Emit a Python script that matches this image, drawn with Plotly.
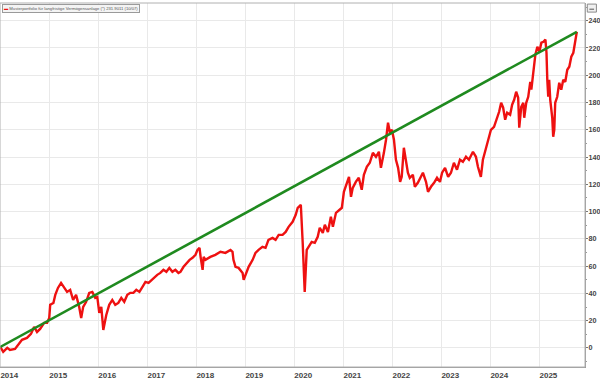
import plotly.graph_objects as go

# Musterportfolio series
dates = [
    "2014-01-01", "2014-01-23", "2014-02-22", "2014-03-14", "2014-04-21", "2014-05-13",
    "2014-06-12", "2014-07-19", "2014-08-18", "2014-09-10", "2014-10-02", "2014-10-25",
    "2014-11-24", "2014-12-16", "2015-01-01", "2015-01-08", "2015-02-01", "2015-02-15",
    "2015-03-07", "2015-03-30", "2015-04-21", "2015-05-14", "2015-06-06", "2015-06-28",
    "2015-07-20", "2015-08-12", "2015-08-27", "2015-09-11", "2015-10-03", "2015-10-26",
    "2015-11-18", "2015-12-10", "2015-12-25", "2016-01-09", "2016-01-24", "2016-02-08",
    "2016-03-01", "2016-03-23", "2016-04-15", "2016-05-07", "2016-05-30", "2016-06-21",
    "2016-07-13", "2016-08-05", "2016-08-27", "2016-09-19", "2016-10-11", "2016-11-03",
    "2016-11-26", "2016-12-18", "2017-01-10", "2017-02-02", "2017-02-24", "2017-03-16",
    "2017-04-08", "2017-05-01", "2017-05-23", "2017-06-14", "2017-07-07", "2017-07-29",
    "2017-08-21", "2017-09-05", "2017-09-28", "2017-10-20", "2017-11-12", "2017-12-04",
    "2017-12-26", "2018-01-10", "2018-01-25", "2018-02-02", "2018-02-17", "2018-02-25",
    "2018-03-10", "2018-04-16", "2018-05-23", "2018-06-30", "2018-08-06", "2018-09-13",
    "2018-09-28", "2018-10-05", "2018-10-20", "2018-11-12", "2018-12-12", "2018-12-20",
    "2019-01-11", "2019-01-26", "2019-02-25", "2019-03-18", "2019-04-10", "2019-05-09",
    "2019-06-01", "2019-06-23", "2019-07-23", "2019-08-15", "2019-09-07", "2019-10-06",
    "2019-10-29", "2019-11-20", "2019-12-20", "2020-01-12", "2020-01-27", "2020-02-19",
    "2020-03-04", "2020-03-19", "2020-04-03", "2020-04-18", "2020-05-10", "2020-06-02",
    "2020-06-24", "2020-07-09", "2020-08-01", "2020-08-16", "2020-09-08", "2020-09-30",
    "2020-10-15", "2020-11-07", "2020-11-29", "2020-12-21", "2021-01-05", "2021-01-20",
    "2021-02-12", "2021-02-27", "2021-03-12", "2021-04-04", "2021-04-26", "2021-05-18",
    "2021-06-03", "2021-06-25", "2021-07-17", "2021-08-09", "2021-09-01", "2021-09-23",
    "2021-10-08", "2021-10-30", "2021-11-15", "2021-11-30", "2021-12-14", "2021-12-29",
    "2022-01-13", "2022-01-28", "2022-02-13", "2022-02-28", "2022-03-12", "2022-03-28",
    "2022-04-12", "2022-04-27", "2022-05-11", "2022-06-03", "2022-06-18", "2022-07-10",
    "2022-08-02", "2022-08-17", "2022-09-09", "2022-09-24", "2022-10-16", "2022-11-08",
    "2022-11-30", "2022-12-22", "2023-01-07", "2023-01-29", "2023-02-21", "2023-03-14",
    "2023-04-05", "2023-04-28", "2023-05-20", "2023-06-11", "2023-07-04", "2023-07-26",
    "2023-08-25", "2023-09-16", "2023-10-01", "2023-10-23", "2023-11-07", "2023-11-23",
    "2023-12-15", "2023-12-23", "2024-01-06", "2024-01-29", "2024-02-20", "2024-03-07",
    "2024-03-22", "2024-04-06", "2024-04-21", "2024-05-06", "2024-05-28", "2024-06-12",
    "2024-06-27", "2024-07-12", "2024-07-27", "2024-08-04", "2024-08-19", "2024-09-03",
    "2024-09-10", "2024-09-25", "2024-10-10", "2024-10-25", "2024-11-02", "2024-11-17",
    "2024-12-02", "2024-12-17", "2025-01-01", "2025-01-16", "2025-01-31", "2025-02-15",
    "2025-02-23", "2025-03-01", "2025-03-08", "2025-03-15", "2025-03-23", "2025-04-07",
    "2025-04-14", "2025-04-22", "2025-04-29", "2025-05-14", "2025-05-29", "2025-06-13",
    "2025-06-28", "2025-07-13", "2025-07-28", "2025-08-12", "2025-08-27", "2025-09-11",
    "2025-09-24", "2025-09-30", "2025-10-07",
]
values = [
    0.7, -2.9, 0.0, -1.5, -0.7, 2.2,
    5.9, 7.3, 10.3, 15.4, 11.7, 13.9,
    18.4, 18.4, 22.0, 31.6, 33.0, 38.9,
    44.0, 47.7, 44.0, 41.1, 42.6, 35.2,
    38.9, 30.1, 22.0, 30.1, 33.8, 40.4,
    41.1, 36.7, 37.4, 25.7, 30.1, 13.2,
    24.2, 31.6, 35.2, 31.6, 33.0, 36.7,
    33.8, 38.9, 40.4, 40.4, 42.6, 41.1,
    44.8, 48.4, 47.7, 49.9, 52.1, 53.6,
    55.0, 57.3, 55.8, 58.7, 55.8, 57.3,
    55.0, 55.8, 59.5, 62.4, 64.6, 66.1,
    68.3, 71.9, 73.4, 66.8, 57.3, 66.8,
    64.6, 66.8, 68.3, 70.5, 69.7, 71.9,
    70.5, 64.6, 59.5, 58.7, 55.0, 49.9,
    55.0, 59.5, 64.6, 69.7, 71.9, 74.1,
    73.4, 79.3, 80.7, 79.3, 82.9, 82.9,
    85.1, 88.8, 92.5, 97.6, 102.8, 105.0,
    77.1, 41.1, 71.9, 74.1, 77.8, 77.1,
    81.5, 88.1, 84.4, 90.3, 85.1, 96.2,
    88.8, 99.1, 101.3, 102.8, 114.5, 119.6,
    125.5, 110.8, 117.4, 121.8, 124.8, 116.0,
    127.0, 132.9, 135.8, 143.1, 140.2, 143.9,
    132.1, 143.1, 152.7, 165.2, 157.8, 160.0,
    152.7, 138.0, 132.1, 121.8, 125.5, 146.8,
    138.0, 128.5, 124.8, 127.0, 118.2, 121.1,
    125.5, 128.5, 121.8, 114.5, 118.2, 121.1,
    124.8, 121.8, 128.5, 132.1, 125.5, 128.5,
    135.8, 130.7, 138.0, 136.5, 140.2, 138.0,
    143.9, 140.2, 132.9, 125.5, 138.0, 143.9,
    150.5, 154.9, 160.0, 162.2, 168.8, 173.2,
    179.8, 176.2, 167.4, 172.5, 171.0, 178.4,
    182.0, 187.9, 183.5, 161.5, 176.9, 179.8,
    168.8, 179.8, 184.2, 195.2, 189.4, 204.0,
    215.1, 220.9, 217.3, 223.9, 224.6, 226.1,
    216.5, 196.7, 184.2, 196.7, 182.0, 168.8,
    154.9, 160.0, 179.8, 184.2, 194.5, 189.4,
    196.7, 195.2, 204.0, 206.3, 213.6, 216.5,
    223.9, 227.6, 231.9,
]

# Trend line (start and end points)
trend_dates = ["2014-01-01", "2025-10-07"]
trend_values = [0.7, 231.9]

y_ticks = [0, 20, 40, 60, 80, 100, 120, 140, 160, 180, 200, 220, 240]
series_name = "Musterportfolio für langfristige Vermögensanlage (*) 231.9011 (10/07)"

fig = go.Figure()
fig.add_trace(go.Scatter(
    x=dates, y=values, mode="lines", name=series_name,
    line=dict(color="#ee1111", width=2.4), showlegend=False,
))
fig.add_trace(go.Scatter(
    x=trend_dates, y=trend_values, mode="lines", name="Trend",
    line=dict(color="#1f8a1f", width=2.6), showlegend=False,
))

xfont = dict(family="Liberation Sans", size=8, color="#444444", weight="bold")
yfont = dict(family="Liberation Sans", size=7.2, color="#444444", weight="bold")

fig.update_layout(
    width=600, height=380,
    margin=dict(l=0, r=15, t=3, b=13),
    paper_bgcolor="white", plot_bgcolor="white",
    xaxis=dict(
        type="date", automargin=False,
        range=["2013-12-30", "2025-12-07"],
        tick0="2014-01-01", dtick="M12", tickformat="%Y",
        ticklabelshift=9, ticklabelstandoff=0,
        showgrid=True, gridcolor="#e9e9e9", gridwidth=1,
        showline=True, linecolor="#9a9a9a", linewidth=1,
        ticks="", tickfont=xfont, zeroline=False,
    ),
    yaxis=dict(
        side="right", automargin=False,
        range=[-14, 253],
        tickvals=y_ticks,
        ticktext=[str(v) for v in y_ticks],
        showgrid=True, gridcolor="#e9e9e9", gridwidth=1,
        showline=True, linecolor="#9a9a9a", linewidth=1,
        ticks="outside", ticklen=2, tickcolor="#777777",
        minor=dict(ticks="outside", ticklen=1, dtick=10, tickcolor="#999999", showgrid=False),
        ticklabelstandoff=-1,
        tickfont=yfont, zeroline=False,
    ),
    annotations=[
        dict(
            xref="paper", yref="paper", x=0.003, y=0.997, xanchor="left", yanchor="top",
            text="<span style='color:#ee1111'>▬</span> " + series_name,
            showarrow=False, font=dict(family="Liberation Sans", size=4.2, color="#555555"),
            bgcolor="#f4f4f4", bordercolor="#9a9a9a", borderwidth=1, borderpad=1,
        )
    ],
    shapes=[
        dict(type="rect", xref="paper", yref="paper", x0=0, x1=1, y0=0, y1=1,
             line=dict(color="#b0b0b0", width=1)),
        # small window icon at the top right corner
        dict(type="rect", xref="paper", yref="paper",
             x0=1.0039, x1=1.0195, y0=0.975, y1=0.997,
             line=dict(color="#8a8a8a", width=1), fillcolor="#f0f0f0"),
        dict(type="line", xref="paper", yref="paper",
             x0=1.0075, x1=1.0155, y0=0.983, y1=0.983,
             line=dict(color="#555555", width=1)),
    ],
)

fig.write_html("out.html", config={"displayModeBar": False},
               post_script="document.body.style.margin='0';")
